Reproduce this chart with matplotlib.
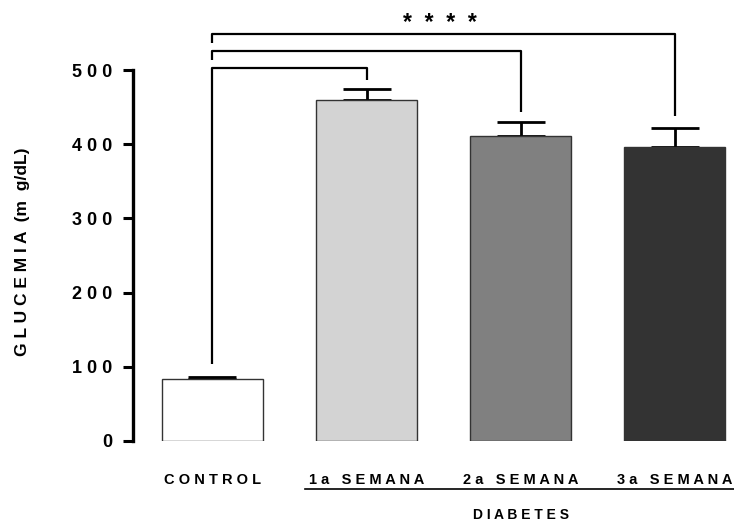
import matplotlib.pyplot as plt
from matplotlib.transforms import blended_transform_factory

plt.rcParams['font.family'] = ['Liberation Sans', 'DejaVu Sans']
plt.rcParams['font.weight'] = 'bold'

# Mean glucemia per group with upper SEM
groups = ['CONTROL', '1a SEMANA', '2a SEMANA', '3a SEMANA']
glucemia = [83.5, 459, 411, 396.5]
sem = [3, 15, 19, 25.5]
bar_colors = ['white', '#d3d3d3', '#808080', '#333333']

# Significance brackets from CONTROL to each week
bracket_to = [1, 2, 3]
bracket_y = [503, 526, 549]
bracket_left_end = [104, 513.5, 536.5]
bracket_right_end = [486.5, 444, 438.5]
yticks = [0, 100, 200, 300, 400, 500]


def spaced(s):
    # letter-spaced labels, words separated by a wider gap
    return '   '.join(' '.join(w) for w in s.split(' '))


fig = plt.figure(figsize=(7.34, 5.22), dpi=100)
ax = fig.add_axes([0.1812, 0.1552, 0.8188, 0.8257])

x = list(range(len(groups)))
ax.bar(x, glucemia, width=0.655, color=bar_colors, edgecolor='#333333',
       linewidth=1.0, zorder=2)
ax.errorbar(x, glucemia, yerr=[[0] * len(sem), sem], fmt='none',
            ecolor='black', elinewidth=2.0, capsize=17, capthick=2.0, zorder=1)

# brackets
for j, yb, yl, yr in zip(bracket_to, bracket_y, bracket_left_end, bracket_right_end):
    ax.plot([0, 0, j, j], [yl, yb, yb, yr], color='black', lw=1.6,
            solid_capstyle='butt', clip_on=False)
ax.text(1.475, 563, '*  *  *  *', ha='center', va='center', fontsize=16.5,
        fontweight='bold')

ax.set_xlim(-0.515, 3.383)
ax.set_ylim(0, 581)

for side in ['top', 'right', 'bottom']:
    ax.spines[side].set_visible(False)
ax.spines['left'].set_linewidth(2.4)
ax.spines['left'].set_bounds(0, 500)

ax.set_yticks(yticks)
ax.set_yticklabels([' '.join(str(t)) for t in yticks], fontsize=13,
                   fontweight='bold')
ax.tick_params(axis='y', length=7, width=2.2, pad=8)

ax.set_xticks(x)
ax.set_xticklabels([spaced(g) for g in groups], fontsize=10.5,
                   fontweight='bold')
ax.tick_params(axis='x', length=0, pad=23)

ax.set_ylabel('G L U C E M I A  (m  g/dL)', fontsize=12.5, fontweight='bold')
ax.yaxis.set_label_coords(-0.172, 0.44)

# group line and label under the diabetes weeks
trans = blended_transform_factory(ax.transData, ax.transAxes)
ax.plot([0.6, 3.383], [-0.111, -0.111], color='black', lw=1.2,
        transform=trans, clip_on=False)
ax.text(2.0, -0.171, spaced('DIABETES'), transform=trans, ha='center',
        va='center', fontsize=10, fontweight='bold')

fig.savefig('out.png', dpi=100)
